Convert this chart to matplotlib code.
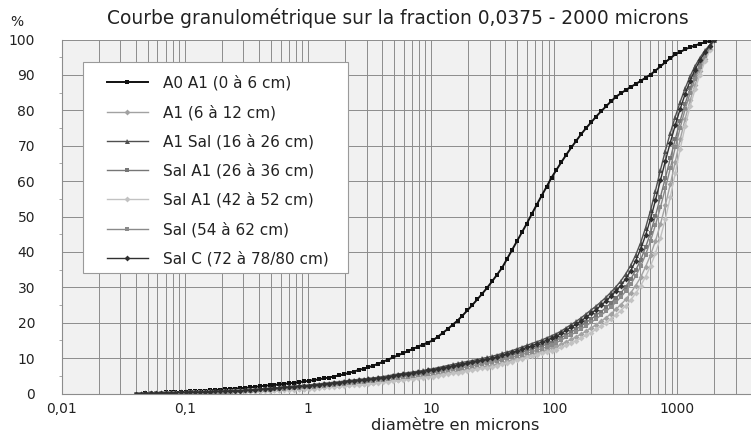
import matplotlib
matplotlib.use('Agg')
import matplotlib.pyplot as plt
from matplotlib.patches import Rectangle
from matplotlib.ticker import LogLocator, NullFormatter

plt.rcParams['font.family'] = ['DejaVu Sans']

# classes granulométriques (microns)
diametres = [
    0.040, 0.044, 0.048, 0.053, 0.058, 0.064, 0.070, 0.077, 0.084, 0.093,
    0.102, 0.111, 0.122, 0.134, 0.147, 0.161, 0.177, 0.194, 0.213, 0.233,
    0.256, 0.281, 0.308, 0.338, 0.370, 0.406, 0.446, 0.489, 0.536, 0.588,
    0.645, 0.707, 0.776, 0.851, 0.933, 1.024, 1.123, 1.232, 1.351, 1.482,
    1.626, 1.783, 1.956, 2.146, 2.354, 2.582, 2.832, 3.106, 3.407, 3.738,
    4.100, 4.497, 4.933, 5.411, 5.935, 6.511, 7.142, 7.834, 8.593, 9.426,
    10.34, 11.34, 12.44, 13.65, 14.97, 16.42, 18.01, 19.76, 21.67, 23.77,
    26.07, 28.60, 31.37, 34.41, 37.75, 41.41, 45.42, 49.82, 54.65, 59.95,
    65.76, 72.14, 79.13, 86.80, 95.21, 104.4, 114.6, 125.7, 137.8, 151.2,
    165.9, 181.9, 199.6, 218.9, 240.1, 263.4, 288.9, 316.9, 347.6, 381.3,
    418.3, 458.8, 503.3, 552.1, 605.6, 664.3, 728.7, 799.3, 876.8, 961.9,
    1055, 1157, 1269, 1392, 1527, 1675, 1838, 2000,
]

# pourcentages cumulés par horizon
a0_a1 = [
    0.0, 0.0, 0.1, 0.1, 0.2, 0.2, 0.3, 0.3, 0.4, 0.4, 0.5,
    0.6, 0.7, 0.8, 0.8, 0.9, 1.0, 1.1, 1.2, 1.3, 1.4, 1.5, 1.6,
    1.7, 1.9, 2.0, 2.2, 2.3, 2.4, 2.6, 2.7, 2.9, 3.0, 3.2, 3.4, 3.6,
    3.8, 4.0, 4.3, 4.5, 4.8, 5.1, 5.4,
    5.8, 6.2, 6.6, 7.0, 7.4, 7.9, 8.4,
    9.0, 9.6, 10.2, 10.8, 11.4,
    12.0, 12.6, 13.2, 13.8, 14.4, 15.0,
    16.0, 17.1, 18.2, 19.4, 20.6, 22.0, 23.5,
    25.0, 26.6, 28.2, 29.9, 31.7, 33.6, 35.5,
    38.0, 40.5, 43.0, 45.5, 48.0,
    50.7, 53.3, 55.9, 58.4, 61.0,
    63.2, 65.4, 67.5, 69.5,
    71.4, 73.3, 75.0, 76.6, 78.2, 79.7,
    81.1, 82.5, 83.8,
    84.8, 85.7, 86.6,
    87.4, 88.3, 89.2, 90.1,
    91.2, 92.4, 93.6, 94.7, 95.8,
    96.5, 97.2, 97.8, 98.3,
    98.8, 99.2, 99.6, 100.0,
]

a1_6_12 = [
    0.0, 0.0, 0.0, 0.0, 0.0, 0.1, 0.1, 0.1, 0.1, 0.1, 0.1,
    0.1, 0.2, 0.2, 0.3, 0.3, 0.3, 0.4, 0.4, 0.5, 0.5, 0.6, 0.6,
    0.7, 0.7, 0.8, 0.9, 1.0, 1.0, 1.1, 1.2, 1.2, 1.3, 1.4, 1.4, 1.5,
    1.6, 1.7, 1.9, 2.0, 2.1, 2.2, 2.3, 2.5, 2.6, 2.7, 2.8, 2.9, 3.1, 3.2,
    3.4, 3.6, 3.7, 3.9, 4.1, 4.3, 4.5, 4.6, 4.8, 5.0, 5.2,
    5.4, 5.7, 5.9, 6.1, 6.4, 6.6, 6.8, 7.1, 7.3, 7.5, 7.8, 8.0,
    8.3, 8.7, 9.1, 9.5, 9.9, 10.3, 10.7, 11.1, 11.5, 12.0, 12.4, 12.9,
    13.3, 13.9, 14.6, 15.3, 16.0, 16.8, 17.6, 18.5, 19.4, 20.4,
    21.4, 22.5, 23.8, 25.1, 26.6, 28.4, 30.5, 32.8, 35.8, 39.1,
    43.1, 47.8, 53.2, 59.1, 65.5, 71.8, 77.6, 82.8, 87.2,
    91.1, 94.4, 97.3, 100.0,
]

a1_sal_16_26 = [
    0.0, 0.0, 0.1, 0.1, 0.1, 0.2, 0.2, 0.2, 0.2, 0.3, 0.3,
    0.4, 0.4, 0.5, 0.5, 0.6, 0.7, 0.7, 0.8, 0.8, 0.9, 0.9, 1.0,
    1.1, 1.2, 1.3, 1.4, 1.5, 1.6, 1.7, 1.9, 2.0, 2.1, 2.2, 2.3, 2.4,
    2.6, 2.7, 2.9, 3.0, 3.2, 3.3, 3.5, 3.7, 3.8, 4.0, 4.1, 4.3, 4.4, 4.6,
    4.8, 5.0, 5.3, 5.5, 5.7, 5.9, 6.1, 6.3, 6.5, 6.8, 7.0,
    7.3, 7.6, 7.9, 8.2, 8.5, 8.8, 9.0, 9.3, 9.6, 9.9, 10.2, 10.5,
    10.9, 11.3, 11.7, 12.1, 12.6, 13.1, 13.6, 14.1, 14.6, 15.1, 15.7, 16.3,
    16.9, 17.7, 18.6, 19.5, 20.4, 21.4, 22.5, 23.6, 24.7, 25.9,
    27.2, 28.6, 30.1, 31.8, 33.8, 36.2, 39.1, 42.6, 46.8, 51.7,
    57.3, 63.1, 68.6, 73.6, 78.2, 82.4, 86.2, 89.6, 92.5,
    94.9, 96.9, 98.5, 100.0,
]

sal_a1_26_36 = [
    0.0, 0.0, 0.0, 0.1, 0.1, 0.1, 0.1, 0.1, 0.2, 0.2, 0.2,
    0.3, 0.3, 0.3, 0.4, 0.4, 0.5, 0.5, 0.6, 0.6, 0.7, 0.7, 0.8,
    0.9, 1.0, 1.1, 1.2, 1.3, 1.4, 1.4, 1.5, 1.6, 1.7, 1.8, 1.9, 2.0,
    2.1, 2.3, 2.4, 2.6, 2.7, 2.9, 3.0, 3.1, 3.3, 3.4, 3.6, 3.7, 3.9, 4.0,
    4.2, 4.4, 4.6, 4.8, 5.0, 5.2, 5.4, 5.6, 5.8, 6.0, 6.2,
    6.5, 6.7, 7.0, 7.2, 7.5, 7.7, 8.0, 8.3, 8.5, 8.8, 9.0, 9.3,
    9.6, 10.0, 10.4, 10.8, 11.2, 11.6, 12.0, 12.5, 12.9, 13.4, 13.9, 14.4,
    15.1, 15.8, 16.6, 17.4, 18.2, 19.1, 20.1, 21.0, 22.1, 23.1,
    24.3, 25.6, 26.9, 28.4, 30.2, 32.3, 34.8, 37.7, 41.3, 45.4,
    50.2, 55.5, 60.9, 66.4, 71.8, 77.1, 81.9, 86.2, 89.9,
    93.0, 95.7, 97.9, 100.0,
]

sal_a1_42_52 = [
    0.0, 0.0, 0.0, 0.0, 0.0, 0.0, 0.1, 0.1, 0.1, 0.1, 0.1,
    0.1, 0.2, 0.2, 0.2, 0.3, 0.3, 0.3, 0.4, 0.4, 0.4, 0.5, 0.5,
    0.6, 0.6, 0.7, 0.7, 0.8, 0.9, 0.9, 1.0, 1.0, 1.1, 1.2, 1.2, 1.3,
    1.4, 1.5, 1.7, 1.8, 1.9, 2.0, 2.1, 2.3, 2.4, 2.5, 2.6, 2.7, 2.9, 3.0,
    3.2, 3.3, 3.5, 3.7, 3.8, 4.0, 4.1, 4.3, 4.5, 4.6, 4.8,
    5.0, 5.3, 5.5, 5.7, 5.9, 6.2, 6.4, 6.6, 6.8, 7.1, 7.3, 7.5,
    7.8, 8.2, 8.6, 9.0, 9.4, 9.8, 10.2, 10.6, 11.0, 11.4, 11.8, 12.1,
    12.4, 13.0, 13.6, 14.3, 14.9, 15.7, 16.4, 17.2, 18.1, 19.0,
    19.9, 21.0, 22.2, 23.4, 24.8, 26.4, 28.3, 30.4, 33.0, 36.0,
    39.6, 44.0, 49.3, 55.5, 62.3, 69.1, 75.5, 81.1, 85.9,
    90.1, 93.8, 97.0, 100.0,
]

sal_54_62 = [
    0.0, 0.0, 0.0, 0.1, 0.1, 0.1, 0.1, 0.1, 0.2, 0.2, 0.2,
    0.2, 0.3, 0.3, 0.4, 0.4, 0.4, 0.5, 0.5, 0.6, 0.6, 0.7, 0.7,
    0.8, 0.9, 1.0, 1.0, 1.1, 1.2, 1.3, 1.4, 1.5, 1.5, 1.6, 1.7, 1.8,
    1.9, 2.1, 2.2, 2.3, 2.5, 2.6, 2.8, 2.9, 3.0, 3.2, 3.3, 3.4, 3.6, 3.7,
    3.9, 4.1, 4.3, 4.5, 4.7, 4.8, 5.0, 5.2, 5.4, 5.6, 5.8,
    6.0, 6.3, 6.5, 6.8, 7.0, 7.3, 7.5, 7.8, 8.0, 8.3, 8.5, 8.8,
    9.1, 9.5, 9.9, 10.2, 10.6, 11.0, 11.4, 11.8, 12.2, 12.7, 13.1, 13.7,
    14.4, 15.1, 15.9, 16.6, 17.4, 18.3, 19.1, 20.1, 21.1, 22.1,
    23.2, 24.4, 25.8, 27.2, 28.9, 30.8, 33.2, 35.9, 39.2, 43.1,
    47.6, 52.6, 58.0, 63.6, 69.5, 75.1, 80.3, 84.9, 88.9,
    92.3, 95.2, 97.7, 100.0,
]

sal_c_72_80 = [
    0.0, 0.0, 0.1, 0.1, 0.1, 0.2, 0.2, 0.2, 0.2, 0.3, 0.3,
    0.4, 0.4, 0.4, 0.5, 0.5, 0.6, 0.6, 0.7, 0.7, 0.8, 0.8, 0.9,
    1.0, 1.1, 1.2, 1.3, 1.4, 1.5, 1.6, 1.7, 1.8, 1.9, 2.0, 2.1, 2.2,
    2.4, 2.5, 2.7, 2.8, 3.0, 3.1, 3.3, 3.4, 3.6, 3.7, 3.9, 4.0, 4.2, 4.3,
    4.5, 4.7, 5.0, 5.2, 5.4, 5.6, 5.8, 6.0, 6.2, 6.5, 6.7,
    7.0, 7.3, 7.5, 7.8, 8.1, 8.3, 8.6, 8.9, 9.2, 9.4, 9.7, 10.0,
    10.4, 10.8, 11.2, 11.6, 12.0, 12.5, 13.0, 13.5, 14.0, 14.5, 15.0, 15.6,
    16.2, 17.0, 17.9, 18.7, 19.6, 20.5, 21.6, 22.6, 23.7, 24.9,
    26.1, 27.5, 28.9, 30.5, 32.4, 34.7, 37.5, 40.8, 44.7, 49.3,
    54.6, 60.2, 65.7, 70.9, 75.8, 80.4, 84.6, 88.3, 91.5,
    94.2, 96.4, 98.3, 100.0,
]

labels = [
    'A0 A1 (0 à 6 cm)',
    'A1 (6 à 12 cm)',
    'A1 Sal (16 à 26 cm)',
    'Sal A1 (26 à 36 cm)',
    'Sal A1 (42 à 52 cm)',
    'Sal (54 à 62 cm)',
    'Sal C (72 à 78/80 cm)',
]
courbes = [a0_a1, a1_6_12, a1_sal_16_26, sal_a1_26_36,
           sal_a1_42_52, sal_54_62, sal_c_72_80]

couleurs = ['#111111', '#a2a2a2', '#505050', '#767676',
            '#c2c2c2', '#8a8a8a', '#303030']
marqueurs = ['s', 'D', '^', 's', 'D', 's', 'D']
tailles = [3.2, 3.0, 3.6, 3.2, 3.0, 3.2, 3.0]
epaisseurs = [1.4, 1.0, 1.0, 1.0, 1.0, 1.0, 1.0]

fig = plt.figure(figsize=(7.51, 4.32), dpi=100)
ax = fig.add_axes([61.5 / 751, 38.5 / 432, 690 / 751, 354 / 432])
ax.set_facecolor('#f1f1f1')

for y, lab, c, m, ms, lw in zip(courbes, labels, couleurs, marqueurs,
                                tailles, epaisseurs):
    ax.plot(diametres, y, color=c, marker=m, ms=ms, lw=lw,
            markeredgewidth=0, label=lab)

ax.set_xscale('log')
ax.set_xlim(0.01, 4000)
ax.set_ylim(0, 100)

ax.set_xticks([0.01, 0.1, 1, 10, 100, 1000])
ax.set_xticklabels(['0,01', '0,1', '1', '10', '100', '1000'])
ax.xaxis.set_minor_locator(LogLocator(base=10, subs=range(2, 10)))
ax.xaxis.set_minor_formatter(NullFormatter())
ax.set_yticks(range(0, 101, 10))
ax.set_yticks(range(5, 100, 10), minor=True)

ax.grid(which='both', axis='x', color='#8c8c8c', lw=0.7)
ax.grid(which='major', axis='y', color='#8c8c8c', lw=0.7)
ax.set_axisbelow(True)

ax.tick_params(axis='x', which='both', length=0, pad=6, labelsize=10,
               colors='#222222')
ax.tick_params(axis='y', which='major', length=0, pad=19, labelsize=10,
               colors='#222222')
ax.tick_params(axis='y', which='minor', length=2, color='#9a9a9a')

for s in ['top', 'right']:
    ax.spines[s].set_visible(False)
for s in ['left', 'bottom']:
    ax.spines[s].set_color('#8c8c8c')
    ax.spines[s].set_linewidth(0.8)

# cadre blanc de la légende, dessiné à part
ax.add_patch(Rectangle((0.0312, 0.3404), 0.384, 0.596, transform=ax.transAxes,
                       facecolor='white', edgecolor='#9a9a9a', lw=0.8,
                       zorder=4))
leg = ax.legend(loc='upper left', bbox_to_anchor=(0.0659, 0.8990),
                borderaxespad=0, borderpad=0, fontsize=11, numpoints=1,
                handlelength=2.68, handletextpad=0.98, labelspacing=0.9,
                frameon=False)
leg.set_zorder(5)
for t in leg.get_texts():
    t.set_color('#222222')

fig.text(398 / 751, 1 - 18 / 432,
         'Courbe granulométrique sur la fraction 0,0375 - 2000 microns',
         ha='center', va='center', fontsize=13.4, color='#222222')
fig.text(455 / 751, 1 - 425 / 432, 'diamètre en microns',
         ha='center', va='center', fontsize=11.7, color='#222222')
fig.text(17 / 751, 1 - 22 / 432, '%', ha='center', va='center',
         fontsize=10, color='#222222')

fig.savefig('out.png', dpi=100)
